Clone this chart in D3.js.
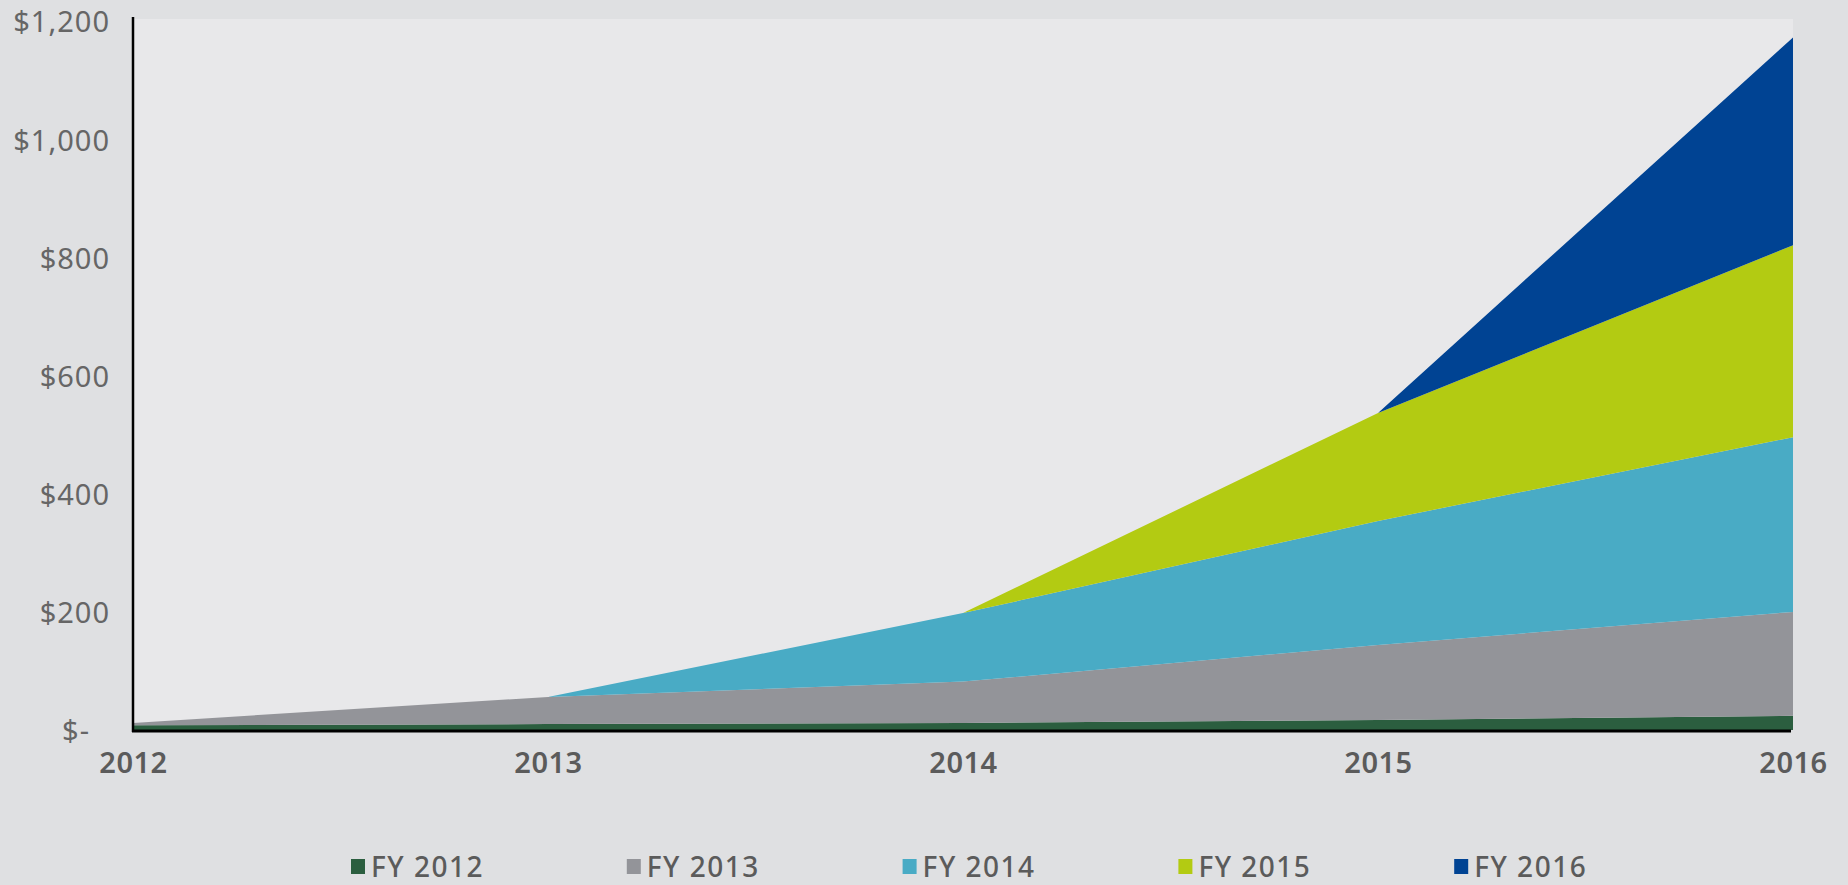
<!DOCTYPE html>
<html>
<head>
<meta charset="utf-8">
<script src="https://cdn.jsdelivr.net/npm/d3@7/dist/d3.min.js"></script>
<style>
  html, body { margin: 0; padding: 0; background: #dfe0e2; overflow: hidden; }
  svg { display: block; font-family: "Noto Sans", "Lato", sans-serif; }
</style>
</head>
<body>
<div id="chart"></div>
<script>
`use strict`;

const years = [2012, 2013, 2014, 2015, 2016];

const seriesKeys = [`FY 2012`, `FY 2013`, `FY 2014`, `FY 2015`, `FY 2016`];

const fy2012 = [8, 10, 12, 17, 24];
const fy2013 = [4, 46, 70, 127, 176];
const fy2014 = [0, 0, 116, 210, 296];
const fy2015 = [0, 0, 0, 183, 325];
const fy2016 = [0, 0, 0, 0, 352];

const yTicks = [0, 200, 400, 600, 800, 1000, 1200];

const colors = [`#2b5e3f`, `#939499`, `#49abc5`, `#b3cb12`, `#004393`];

(function () {

  const W = 1848, H = 885;

  let values = [fy2012, fy2013, fy2014, fy2015, fy2016];

  let rows = years.map((yr, i) => {
    let row = {year: yr};
    seriesKeys.forEach((k, j) => { row[k] = values[j][i]; });
    return row;
  });

  let x = d3.scaleLinear().domain([2012, 2016]).range([133, 1793]);
  let y = d3.scaleLinear().domain([0, 1200]).range([730, 21.5]);

  let svg = d3.select(`#chart`).append(`svg`)
    .attr(`width`, W)
    .attr(`height`, H);

  svg.append(`rect`)
    .attr(`width`, W).attr(`height`, H)
    .attr(`fill`, `#dfe0e2`);

  // plot background
  svg.append(`rect`)
    .attr(`x`, x(2012)).attr(`y`, y(1200) - 2.5)
    .attr(`width`, x(2016) - x(2012))
    .attr(`height`, y(0) - y(1200) + 2.5)
    .attr(`fill`, `#e8e8ea`);

  let stack = d3.stack().keys(seriesKeys);
  let layers = stack(rows);

  let area = d3.area()
    .x(d => x(d.data.year))
    .y0(d => y(d[0]))
    .y1(d => y(d[1]));

  svg.append(`g`).attr(`class`, `areas`)
    .selectAll(`path`).data(layers)
    .enter()
    .append(`path`)
    .attr(`d`, area)
    .attr(`fill`, (d, i) => colors[i]);

  // y axis
  let yAxis = d3.axisLeft(y)
    .tickValues(yTicks)
    .tickSize(0)
    .tickPadding(23)
    .tickFormat(d => d === 0 ? `$-` : `$` + d3.format(`,`)(d));

  let gy = svg.append(`g`)
    .attr(`transform`, `translate(${x(2012)},0)`)
    .call(yAxis);

  gy.select(`.domain`).remove();

  gy.selectAll(`text`)
    .attr(`fill`, `#666666`)
    .style(`font-family`, `"Noto Sans", sans-serif`)
    .style(`font-size`, `29px`)
    .style(`font-weight`, `400`)
    .style(`letter-spacing`, `1px`)
    .attr(`dy`, `0.36em`)
    .attr(`dx`, d => d === 0 ? -20 : 0);

  // x axis
  let xAxis = d3.axisBottom(x)
    .tickValues(years)
    .tickSize(0)
    .tickPadding(22)
    .tickFormat(d3.format(`d`));

  let gx = svg.append(`g`)
    .attr(`transform`, `translate(0,${y(0)})`)
    .call(xAxis);

  gx.select(`.domain`).remove();

  gx.selectAll(`text`)
    .attr(`fill`, `#5b5b5b`)
    .style(`font-family`, `"Noto Sans", sans-serif`)
    .style(`font-size`, `29px`)
    .style(`font-weight`, `600`)
    .style(`letter-spacing`, `0.5px`);

  // axis lines
  svg.append(`line`)
    .attr(`x1`, x(2012)).attr(`x2`, x(2012))
    .attr(`y1`, 17).attr(`y2`, y(0) + 2)
    .attr(`stroke`, `#000`)
    .style(`stroke-width`, 2.5);

  svg.append(`line`)
    .attr(`x1`, x(2012) - 1).attr(`x2`, x(2016) - 2)
    .attr(`y1`, y(0) + 1).attr(`y2`, y(0) + 1)
    .attr(`stroke`, `#000`)
    .style(`stroke-width`, 3);

  // legend
  let legend = svg.append(`g`).attr(`class`, `legend`)
    .selectAll(`g`).data(seriesKeys)
    .enter()
    .append(`g`)
    .attr(`transform`, (d, i) => `translate(${351 + i * 275.8},0)`);

  legend.append(`rect`)
    .attr(`x`, 0).attr(`y`, 859)
    .attr(`width`, 14).attr(`height`, 15)
    .attr(`fill`, (d, i) => colors[i]);

  legend.append(`text`)
    .attr(`x`, 20).attr(`y`, 877)
    .attr(`fill`, `#5b5b5b`)
    .style(`font-family`, `"Noto Sans", sans-serif`)
    .style(`font-size`, `28px`)
    .style(`font-weight`, `500`)
    .style(`letter-spacing`, `1.5px`)
    .text(d => d);

})();
</script>
</body>
</html>
